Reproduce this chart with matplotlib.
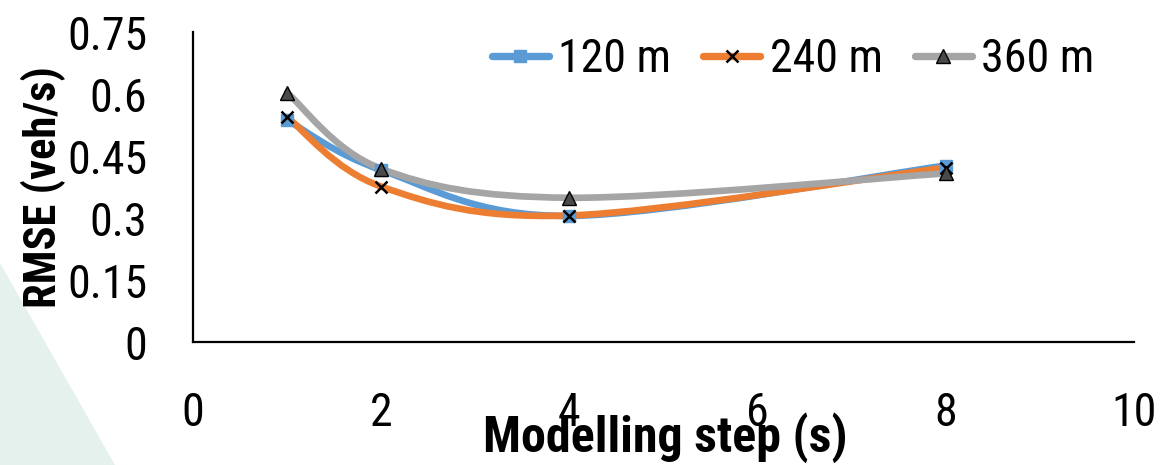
import matplotlib
matplotlib.use("Agg")
import matplotlib.pyplot as plt
from matplotlib import font_manager as fm
from matplotlib.path import Path
from matplotlib.patches import PathPatch, Polygon
from matplotlib.lines import Line2D

# Data
steps = [1, 2, 4, 8]
rmse_120 = [0.537, 0.416, 0.305, 0.427]
rmse_240 = [0.544, 0.376, 0.306, 0.422]
rmse_360 = [0.603, 0.419, 0.349, 0.408]
series_labels = ["120 m", "240 m", "360 m"]
x_ticks = [0, 2, 4, 6, 8, 10]
y_ticks = [0, 0.15, 0.3, 0.45, 0.6, 0.75]
y_tick_labels = ["0", "0.15", "0.3", "0.45", "0.6", "0.75"]


def find_narrow(bold):
    """Return a condensed sans font file if one is installed, else None."""
    prefer = ["Liberation Sans Narrow", "Roboto Condensed", "DejaVu Sans",
              "Noto Sans", "Open Sans", "Roboto", "Liberation Sans"]
    found = {}
    for f in fm.fontManager.ttflist:
        narrow = f.stretch in ("condensed", "semi-condensed", "extra-condensed") or \
            "narrow" in f.name.lower() or "condensed" in f.name.lower() or \
            "condensed" in f.fname.lower() or "narrow" in f.fname.lower()
        if not narrow or f.style != "normal":
            continue
        fl = f.fname.lower()
        if "extracondensed" in fl or "extra" in str(f.stretch) or "semicondensed" in fl:
            continue
        w = f.weight if isinstance(f.weight, int) else {"bold": 700, "normal": 400}.get(f.weight, 400)
        if bold and w != 700:
            continue
        if not bold and w != 400:
            continue
        found.setdefault(f.name, f.fname)
    for p in prefer:
        if p in found:
            return found[p]
    return next(iter(found.values()), None)


reg_file = find_narrow(False)
bold_file = find_narrow(True)
if reg_file and bold_file:
    tick_fp = fm.FontProperties(fname=reg_file, size=33)
    xlabel_fp = fm.FontProperties(fname=bold_file, size=36)
    ylabel_fp = fm.FontProperties(fname=bold_file, size=32)
else:
    tick_fp = fm.FontProperties(family="Liberation Sans", size=31)
    xlabel_fp = fm.FontProperties(family="Liberation Sans", weight="bold", size=30)
    ylabel_fp = fm.FontProperties(family="Liberation Sans", weight="bold", size=29)
leg_fp = tick_fp.copy()

W, H = 1171, 465
fig = plt.figure(figsize=(W / 100, H / 100), dpi=100)

# Pale decorative wedge in the lower-left corner
fig.patches.append(Polygon([(0, 0), (0, (H - 263) / H), (115 / W, 0)],
                           closed=True, transform=fig.transFigure,
                           facecolor="#e4f1ed", edgecolor="none", zorder=0))

ax = fig.add_axes([193 / W, (H - 342) / H, (1134 - 193) / W, (342 - 32) / H])
ax.patch.set_alpha(0)


def smooth_path(xs, ys):
    """Cubic Bezier path through the points (Catmull-Rom style smoothing)."""
    pts = list(zip(xs, ys))
    n = len(pts)
    verts = [pts[0]]
    codes = [Path.MOVETO]
    for i in range(n - 1):
        p0 = pts[i - 1] if i > 0 else pts[i]
        p1 = pts[i]
        p2 = pts[i + 1]
        p3 = pts[i + 2] if i + 2 < n else pts[i + 1]
        c1 = (p1[0] + (p2[0] - p0[0]) / 6, p1[1] + (p2[1] - p0[1]) / 6)
        c2 = (p2[0] - (p3[0] - p1[0]) / 6, p2[1] - (p3[1] - p1[1]) / 6)
        verts += [c1, c2, p2]
        codes += [Path.CURVE4] * 3
    return Path(verts, codes)


colors = ["#5b9bd5", "#ed7d31", "#a5a5a5"]
markers = [
    dict(marker="s", markersize=9, markerfacecolor="#5b9bd5", markeredgecolor="#5b9bd5"),
    dict(marker="x", markersize=8.5, markeredgecolor="black", markeredgewidth=1.8),
    dict(marker="^", markersize=9.5, markerfacecolor="#4a4a4a", markeredgecolor="black",
         markeredgewidth=1.0),
]
all_series = [rmse_120, rmse_240, rmse_360]
lw = 4.8

for vals, c in zip(all_series, colors):
    ax.add_patch(PathPatch(smooth_path(steps, vals), facecolor="none", edgecolor=c,
                           linewidth=lw, capstyle="round", joinstyle="round", zorder=2))

handles = []
for vals, c, mk, lab in zip(all_series, colors, markers, series_labels):
    ax.plot(steps, vals, linestyle="none", zorder=3, **mk)
    handles.append(Line2D([], [], color=c, linewidth=lw + 0.5, solid_capstyle="round",
                          label=lab, **mk))

ax.set_xlim(0, 10)
ax.set_ylim(0, 0.75)
ax.set_xticks(x_ticks)
ax.set_xticklabels([str(v) for v in x_ticks])
ax.set_yticks(y_ticks)
ax.set_yticklabels(y_tick_labels)
for t in ax.get_xticklabels() + ax.get_yticklabels():
    t.set_fontproperties(tick_fp)

ax.tick_params(axis="x", length=0, pad=35)
ax.tick_params(axis="y", length=0, pad=33)

for side in ("top", "right"):
    ax.spines[side].set_visible(False)
for side in ("left", "bottom"):
    ax.spines[side].set_linewidth(1.6)
    ax.spines[side].set_color("black")

ax.legend(handles=handles, loc="center", bbox_to_anchor=((793 - 193) / 941, (342 - 59) / 310),
          ncol=3, frameon=False, prop=leg_fp, handlelength=1.25, handletextpad=0.2,
          columnspacing=0.7, borderpad=0.0)

fig.text(43 / W, (H - 187) / H, "RMSE (veh/s)", rotation=90, ha="center", va="center",
         fontproperties=ylabel_fp)
fig.text(665 / W, (H - 452) / H, "Modelling step (s)", ha="center", va="baseline",
         fontproperties=xlabel_fp)

fig.savefig("out.png", dpi=100)
